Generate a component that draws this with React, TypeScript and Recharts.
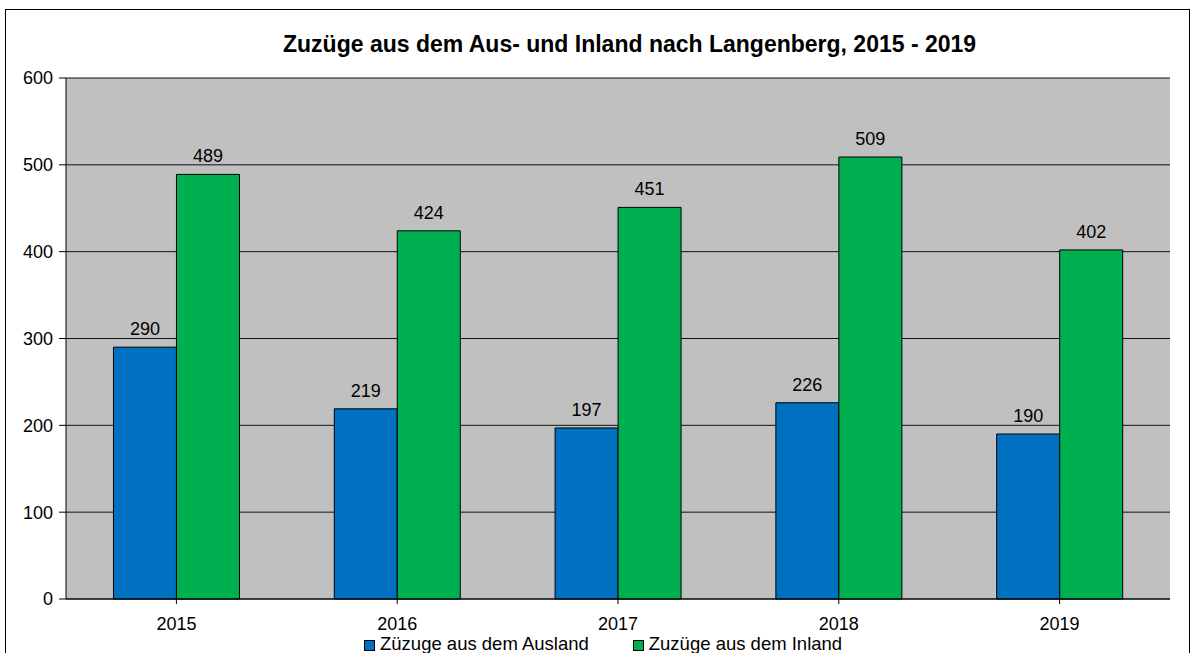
import { BarChart, Bar, XAxis, YAxis, CartesianGrid, LabelList } from 'recharts';

const YEARS = ['2015', '2016', '2017', '2018', '2019'];
const AUSLAND = [290, 219, 197, 226, 190];
const INLAND = [489, 424, 451, 509, 402];
const Y_TICKS = [0, 100, 200, 300, 400, 500, 600];

const data = YEARS.map((year, i) => ({ year, ausland: AUSLAND[i], inland: INLAND[i] }));

const FONT = '"Liberation Sans", Arial, sans-serif';
const BLUE = '#0070C0';
const GREEN = '#00B050';

export default function App() {
  return (
    <div
      style={{
        position: 'absolute', left: 5, top: 9, width: 1183, height: 650,
        border: '1px solid #000', background: '#fff', fontFamily: FONT,
      }}
    >
      <div
        style={{
          position: 'absolute', left: 277, top: 23, whiteSpace: 'nowrap',
          fontWeight: 'bold', fontSize: 23, lineHeight: '23px', color: '#000',
        }}
      >
        Zuzüge aus dem Aus- und Inland nach Langenberg, 2015 - 2019
      </div>
      <BarChart
        width={1183}
        height={644}
        data={data}
        margin={{ top: 68, right: 19, bottom: 30, left: 0 }}
        barCategoryGap="21.5%"
        barGap={0}
      >
        <CartesianGrid horizontal vertical={false} stroke="#111" fill="#C0C0C0" />
        <XAxis
          dataKey="year"
          height={25}
          stroke="#000"
          tick={{ fill: '#000', fontSize: 18, fontFamily: FONT }}
          tickSize={5}
          tickMargin={13}
          interval={0}
        />
        <YAxis
          width={60}
          domain={[0, 600]}
          ticks={Y_TICKS}
          stroke="#000"
          tick={{ fill: '#000', fontSize: 18, fontFamily: FONT }}
          tickSize={7}
          tickMargin={6}
        />
        <Bar dataKey="ausland" fill={BLUE} stroke="#000" strokeWidth={1} isAnimationActive={false}>
          <LabelList dataKey="ausland" position="top" offset={12} fill="#000" fontSize={18} fontFamily={FONT} />
        </Bar>
        <Bar dataKey="inland" fill={GREEN} stroke="#000" strokeWidth={1} isAnimationActive={false}>
          <LabelList dataKey="inland" position="top" offset={12} fill="#000" fontSize={18} fontFamily={FONT} />
        </Bar>
      </BarChart>
      <div
        style={{
          position: 'absolute', top: 625, left: 358, display: 'flex', alignItems: 'center',
          fontSize: 18.5, color: '#000', lineHeight: '18px', whiteSpace: 'nowrap',
        }}
      >
        <span style={{ width: 9, height: 9, background: BLUE, border: '1px solid #000', marginRight: 5, marginTop: 3 }} />
        <span>Züzuge aus dem Ausland</span>
        <span style={{ width: 9, height: 9, background: GREEN, border: '1px solid #000', marginLeft: 44, marginRight: 5, marginTop: 3 }} />
        <span>Zuzüge aus dem Inland</span>
      </div>
    </div>
  );
}
